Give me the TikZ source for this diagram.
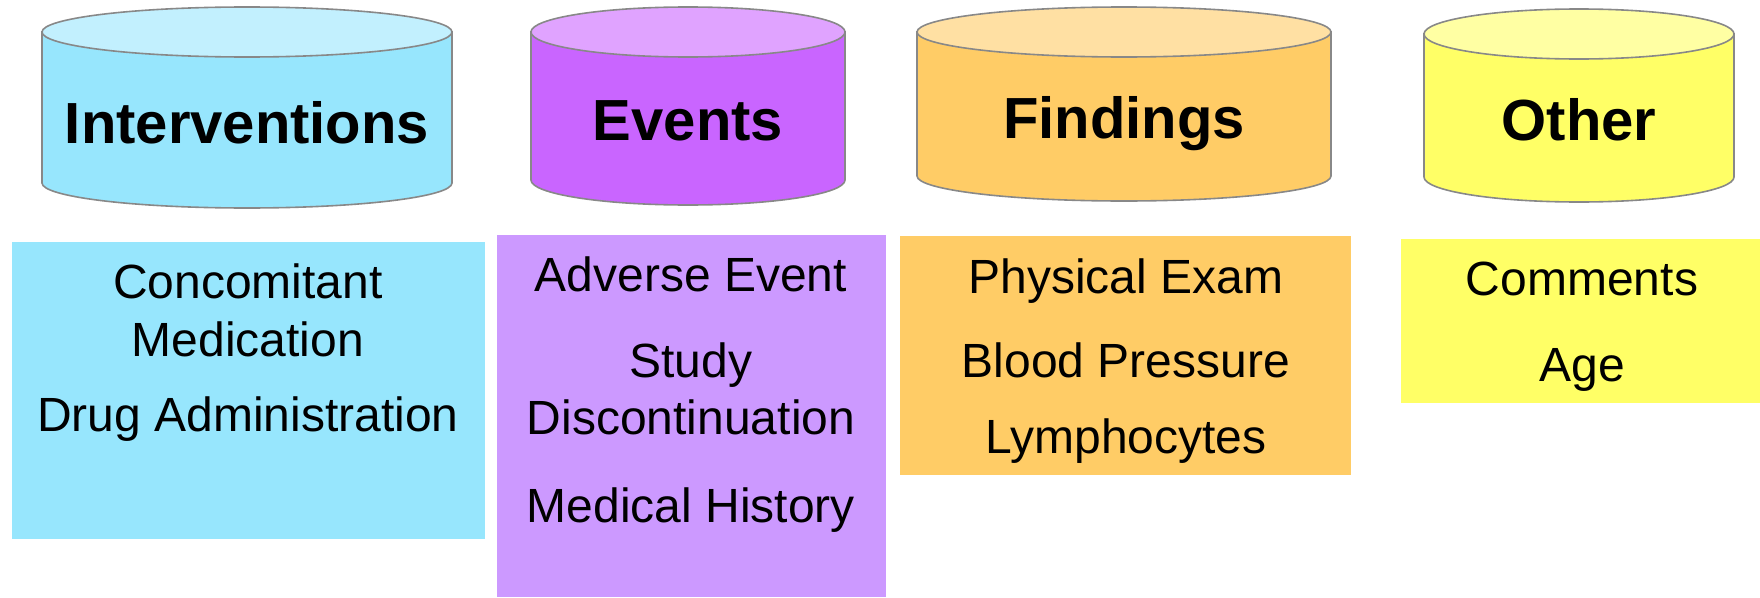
\documentclass[tikz,border=0pt]{standalone}
\usepackage{fontspec}
\setmainfont{Liberation Sans}

\definecolor{cianlado}{HTML}{97E6FD}
\definecolor{ciantapa}{HTML}{C2F0FE}
\definecolor{moradolado}{HTML}{C965FF}
\definecolor{moradotapa}{HTML}{E0A3FF}
\definecolor{moradocaja}{HTML}{CC99FF}
\definecolor{naranja}{HTML}{FFCC66}
\definecolor{naranjatapa}{HTML}{FFE0A3}
\definecolor{amarillo}{HTML}{FFFF66}
\definecolor{amarillotapa}{HTML}{FFFFA3}
\definecolor{borde}{HTML}{888888}

\tikzset{
  cyl/.style={draw=borde, line width=1.6pt},
  titulo/.style={anchor=base, font=\fontsize{58}{70}\selectfont\bfseries},
  item/.style={anchor=base, font=\fontsize{48}{58}\selectfont},
}

% cilindro: izquierda, derecha, y tapa, y base, color lado, color tapa
\newcommand{\cilindro}[6]{%
  \filldraw[cyl, fill=#5] (#1,#3) -- (#1,#4)
    arc[start angle=180, end angle=0, x radius={(#2-#1)/2}, y radius=25]
    -- (#2,#3) -- cycle;
  \filldraw[cyl, fill=#6] ({(#1+#2)/2},#3) ellipse [x radius={(#2-#1)/2}, y radius=25];
}

\begin{document}
\begin{tikzpicture}[x=1pt, y=-1pt]
    \useasboundingbox (0,0) rectangle (1760,597);

    % Cilindros de dominios
    \cilindro{42}{452}{32}{183}{cianlado}{ciantapa}
    \cilindro{531}{845}{32}{180}{moradolado}{moradotapa}
    \cilindro{917}{1331}{32}{176}{naranja}{naranjatapa}
    \cilindro{1424}{1734}{34}{177}{amarillo}{amarillotapa}

    \node[titulo] (interventions) at (247,143) {Interventions};
    \node[titulo] (events) at (688,140) {Events};
    \node[titulo] (findings) at (1124,138) {Findings};
    \node[titulo] (other) at (1579,140) {Other};

    % Cajas con los ejemplos
    \fill[cianlado] (12,242) rectangle (485,539);
    \fill[moradocaja] (497,235) rectangle (886,597);
    \fill[naranja] (900,236) rectangle (1351,475);
    \fill[amarillo] (1401,239) rectangle (1760,403);

    \node[item] (conmeda) at (248,298) {Concomitant};
    \node[item] (conmedb) at (248,356) {Medication};
    \node[item] (drugadm) at (248,431) {Drug Administration};

    \node[item] (adverse) at (691,291) {Adverse Event};
    \node[item] (discona) at (691,377) {Study};
    \node[item] (disconb) at (691,434) {Discontinuation};
    \node[item] (medhist) at (691,522) {Medical History};

    \node[item] (physexam) at (1126,293) {Physical Exam};
    \node[item] (bloodpr) at (1126,377) {Blood Pressure};
    \node[item] (lympho) at (1126,453) {Lymphocytes};

    \node[item] (comments) at (1582,295) {Comments};
    \node[item] (age) at (1582,381) {Age};
\end{tikzpicture}
\end{document}
